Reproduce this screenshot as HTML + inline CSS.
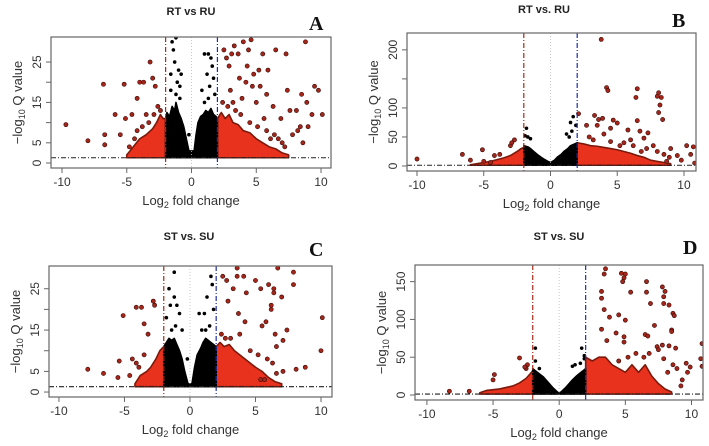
<!DOCTYPE html>
<html><head><meta charset="utf-8">
<style>
body{margin:0;background:#fff;}
svg{display:block;font-family:"Liberation Sans",Arial,sans-serif;}
</style></head>
<body>
<svg id="fig" width="709" height="446" viewBox="0 0 709 446"></svg>
<script>
// ---------- data ----------
const xTicks=[-10,-5,0,5,10];
const aYTicks=[0,5,10,15,20,25]; const aYLabels=["0","5","","15","","25"];
const bYTicks=[0,50,100,150,200]; const bYLabels=["0","50","100","","200"];
const cYTicks=[0,5,10,15,20,25]; const cYLabels=["0","5","","15","","25"];
const dYTicks=[0,50,100,150]; const dYLabels=["0","50","100","150"];
const qThreshold=1.3; const fcThreshold=2;

const aBlackEnv=[[-2,11],[-1.9,12.5],[-1.7,11.5],[-1.5,14],[-1.3,13],[-1.2,15],[-1,12.5],[-0.8,11],[-0.6,9],[-0.4,6],[-0.2,3],[0.2,3],[0.35,7],[0.5,10],[0.7,11.5],[0.9,12],[1.1,13],[1.3,12.5],[1.5,13.5],[1.7,12],[1.9,11.5],[2,11]];
const aRedEnvL=[[-5,2],[-4.5,4],[-4,6],[-3.5,7],[-3,8.5],[-2.7,10],[-2.4,12],[-2.2,11],[-2,11]];
const aRedEnvR=[[2,11],[2.3,12.5],[2.6,11],[2.9,12],[3.2,10],[3.6,9.5],[4,8],[4.5,7.5],[5,6],[5.5,5],[6,4],[6.5,3.5],[7,2.5],[7.5,2]];
const aBlackPts=[[-1.5,30],[-1.2,31],[-1.4,28],[-1.0,23],[-0.8,22],[-1.1,20],[-1.3,25],[1.0,27],[1.3,27],[1.5,26],[1.6,24],[1.2,22],[1.7,21],[0.8,18],[1.4,19],[-0.9,19],[-1.6,22],[-0.2,7],[-1.2,17],[-0.9,16],[1.3,16],[1.0,15],[-1.6,18],[1.8,17]];
const aRedPts=[[-9.7,9.5],[-8,5.5],[-6.8,19.5],[-6.7,7],[-6.7,4.5],[-5.9,12],[-5.2,19.5],[-5.1,11],[-4.6,12],[-4.2,16],[-4,20],[-3.7,20],[-3.5,12],[-3.2,25],[-3,21],[-2.8,19],[-2.6,14],[-2.4,13],[-5.5,7],[-4.4,6],[-3.8,9],[2.5,28],[2.7,26],[2.9,24],[3.3,29],[3.6,27],[4.0,30],[4.4,28],[4.6,30.5],[4.8,22],[5.3,19],[5.5,27],[5.9,23],[6.5,28],[7.3,27],[7.4,18],[8.5,17],[8.8,30],[9.5,19],[9.8,18],[10.1,12],[9.3,12],[8.9,15],[8.4,9],[8.2,8],[7.8,7],[7.0,5],[6.3,14],[6.1,6],[5.6,11],[5.0,15],[4.2,20],[3.9,16],[3.1,27],[3.4,13],[4.3,24],[5.8,17],[6.9,11],[7.6,13],[8.1,13],[9.0,9],[3.0,18],[3.7,21],[4.7,19],[5.2,23],[6.7,6],[2.4,15],[2.8,14],[3.2,15],[3.8,12],[4.5,10],[5.1,9],[5.8,8],[6.4,7],[7.2,4],[8.6,5],[-4.8,4],[-4.2,8],[-3.3,10],[-2.9,12]];

const bBlackEnv=[[-2,35],[-1.7,33],[-1.5,30],[-1.2,24],[-1,20],[-0.7,15],[-0.5,12],[-0.2,8],[0,6],[0.3,10],[0.5,15],[0.8,20],[1,25],[1.3,30],[1.5,35],[1.8,38],[2,40]];
const bRedEnvL=[[-6,2],[-5,6],[-4.5,8],[-4,11],[-3.5,14],[-3,18],[-2.5,25],[-2.2,30],[-2,32]];
const bRedEnvR=[[2,40],[2.5,38],[3,35],[3.5,34],[4,32],[4.5,30],[5,28],[5.5,25],[6,22],[6.5,18],[7,15],[7.5,10],[8,8],[9,4]];
const bBlackPts=[[-1.8,65],[-1.7,50],[-1.5,47],[1.5,75],[1.7,85],[1.6,60],[1.2,55],[1.4,50],[1.9,70],[-1.9,52]];
const bRedPts=[[3.8,218],[4.2,135],[4.3,130],[6.5,133],[6.4,118],[8,120],[8.1,126],[8.3,118],[8.1,92],[8.4,80],[8.2,105],[2.1,90],[3.3,87],[3.6,80],[3.9,82],[4.7,79],[5.0,74],[6.5,78],[6.7,60],[7.3,57],[5.8,62],[4.5,65],[2.7,70],[3.5,70],[6.0,45],[7.0,48],[7.7,35],[9.0,30],[10.2,35],[10.7,33],[10.5,20],[9.5,18],[8.5,20],[9.8,10],[10.8,5],[8.7,8],[-10,12],[-6.6,20],[-5.1,28],[-4.2,18],[-3.8,20],[-3.0,35],[-2.7,45],[-2.9,40],[-6,10],[-5,8],[-4.5,6],[2.9,50],[4,55],[5.5,40],[6.2,35],[7.2,30],[8.0,25],[8.9,15],[6.8,25],[5.2,35],[4.5,42],[3.2,45]];

const cBlackEnv=[[-2,11],[-1.8,12],[-1.6,13],[-1.4,12.5],[-1.2,13],[-1,11.5],[-0.8,10],[-0.6,8],[-0.4,5],[-0.15,2],[0.15,2],[0.35,6],[0.55,9],[0.8,10.5],[1,12],[1.2,13],[1.4,12.5],[1.6,12],[1.8,11.5],[2,11]];
const cRedEnvL=[[-4.2,2],[-3.8,4],[-3.3,5],[-3,6],[-2.6,8],[-2.3,10],[-2,11]];
const cRedEnvR=[[2,11],[2.3,12],[2.6,11],[3,11.5],[3.4,10],[3.8,9],[4.2,8],[4.6,7],[5,6],[5.5,5],[6,3.5],[6.5,2.5],[7,2]];
const cBlackPts=[[-1.6,31],[-1.2,29],[-1.6,25],[-1.2,23],[-1.0,21],[-1.5,21],[-0.8,19],[-1.8,18],[-1.4,15],[1.4,31],[1.6,28],[1.7,26],[1.3,23],[1.8,20],[1.1,19],[0.7,19],[1.5,16],[0.9,15],[-0.2,8],[-1.1,16],[1.2,15],[-0.6,15]];
const cRedPts=[[-7.8,5.5],[-6.6,4.5],[-5.5,3.5],[-5.1,18.5],[-4.1,20.5],[-3.7,20.5],[-3.5,16.5],[-3.2,14],[-2.8,22],[-2.7,21],[-4.4,8],[-4.1,7],[-5.4,7.5],[-3.5,9],[2.5,28],[2.8,27],[3.3,31],[3.6,30],[3.6,28],[4.1,28],[4.6,31],[5.0,27],[5.4,25],[6.0,26],[6.4,25],[6.7,30],[7.9,29],[7.9,26],[7.0,23],[6.4,24],[6.2,21],[6.2,20],[5.8,17],[5.5,16],[6.5,14],[7.4,15],[7.1,12.5],[6.6,11],[10.1,18],[10,10],[8.8,6],[8.1,5.5],[7.1,5],[6.6,4.5],[5.4,3],[5.7,3],[4.2,17],[3.7,19],[2.9,22],[3.3,25],[4.3,24],[3.8,14],[2.4,14],[2.7,13],[3.1,13],[4.6,10],[5.2,9],[5.9,8],[6.3,7],[-4.6,4],[-3.9,6]];

const dBlackEnv=[[-2,35],[-1.8,32],[-1.5,28],[-1.2,24],[-1,20],[-0.7,14],[-0.5,10],[-0.2,5],[0,2],[0.2,5],[0.5,10],[0.8,16],[1,20],[1.3,25],[1.5,28],[1.8,32],[2,35]];
const dRedEnvL=[[-6,3],[-5.5,6],[-5,7],[-4.5,8],[-4,10],[-3.5,12],[-3,16],[-2.5,22],[-2.2,28],[-2,32]];
const dRedEnvR=[[2,50],[2.5,45],[3,50],[3.5,50],[4,40],[4.5,35],[5,30],[5.5,40],[6,30],[6.5,40],[7,25],[7.5,15],[8,8],[8.5,4]];
const dBlackPts=[[-1.8,62],[-1.8,45],[-1.5,35],[1.7,62],[1.9,48],[1.2,40],[1.0,38],[1.6,42],[1.9,52]];
const dRedPts=[[-8.3,5],[-6.8,5],[-4.9,27],[-5.0,20],[-3.0,49],[-2.4,40],[-2.5,35],[-2.6,37],[3.5,167],[3.4,160],[3.2,137],[3.2,128],[4.7,161],[5.0,160],[4.9,155],[4.8,150],[5.4,136],[6.6,150],[6.6,136],[6.9,121],[7.8,143],[8.0,137],[7.9,130],[7.9,121],[8.3,119],[8.6,108],[8.7,105],[8.5,86],[8.5,84],[3.4,113],[3.8,103],[4.5,106],[5.0,99],[7.2,92],[3.2,87],[3.6,72],[4.3,82],[4.9,77],[4.9,70],[6.5,80],[6.7,78],[7.4,64],[7.8,66],[8.3,65],[8.8,62],[10.8,68],[10.7,48],[10.8,38],[9.6,42],[9.9,37],[9.3,20],[9.2,12],[8.9,35],[8.6,40],[8.2,30],[7.9,48],[7.5,60],[6.8,55],[6.4,50],[5.8,55],[5.2,50],[4.5,45],[9.7,30]];

// ---------- drawing ----------
const NS="http://www.w3.org/2000/svg";
const svg=document.getElementById('fig');
function el(tag,attrs,parent){const e=document.createElementNS(NS,tag);for(const k in attrs)e.setAttribute(k,attrs[k]);(parent||svg).appendChild(e);return e;}

function panel(cfg){
  const g=el('g',{});
  
  
  const {bx,by,bw,bh,xmin,xmax,ymin,ymax}=cfg;
  const X=v=>bx+(v-xmin)/(xmax-xmin)*bw;
  const Y=v=>by+bh-(v-ymin)/(ymax-ymin)*bh;
  const cp=el('clipPath',{id:'clip'+cfg.id},g);
  el('rect',{x:bx,y:by,width:bw,height:bh},cp);
  const plot=el('g',{'clip-path':'url(#clip'+cfg.id+')'},g);
  function env(arr,fill,name){
    let pts=arr.map(p=>X(p[0])+','+Y(p[1]));
    pts.push(X(arr[arr.length-1][0])+','+Y(qThreshold));
    pts.push(X(arr[0][0])+','+Y(qThreshold));
    const p=el('polygon',{points:pts.join(' '),fill:fill,stroke:fill==='#000'?'#000':'#7a1a0c','stroke-width':1.6,'stroke-linejoin':'round'},plot);
    
    
  }
  env(cfg.redL,'#e8321e','dense-down-region');
  env(cfg.redR,'#e8321e','dense-up-region');
  env(cfg.black,'#000','dense-nonsig-region');
  cfg.redPts.forEach(p=>{
    const c=el('circle',{cx:X(p[0]),cy:Y(p[1]),r:2.1,fill:'#a3261a',stroke:'#3a0805','stroke-width':0.6},plot);
    
    
  });
  cfg.blackPts.forEach(p=>{
    const c=el('circle',{cx:X(p[0]),cy:Y(p[1]),r:1.8,fill:'#000'},plot);
    
    
  });
  const l1=el('line',{x1:X(-fcThreshold),x2:X(-fcThreshold),y1:by,y2:by+bh,stroke:'#a52a1a','stroke-width':1.2,'stroke-dasharray':'5,2,1,2'},plot);
   
  const l2=el('line',{x1:X(fcThreshold),x2:X(fcThreshold),y1:by,y2:by+bh,stroke:'#1f2fa0','stroke-width':1.2,'stroke-dasharray':'5,2,1,2'},plot);
   
  const l0=el('line',{x1:X(0),x2:X(0),y1:by,y2:by+bh,stroke:'#bbb','stroke-width':0.8,'stroke-dasharray':'1,2'},plot);
   
  const lh=el('line',{x1:bx,x2:bx+bw,y1:Y(qThreshold),y2:Y(qThreshold),stroke:'#222','stroke-width':1.1,'stroke-dasharray':'5,2,1,2'},plot);
   
  const box=el('rect',{x:bx,y:by,width:bw,height:bh,fill:'none',stroke:'#666','stroke-width':1.2},g);
   
  xTicks.forEach(t=>{
    el('line',{x1:X(t),x2:X(t),y1:by+bh,y2:by+bh+5,stroke:'#666','stroke-width':1},g);
    const tx=el('text',{x:X(t),y:by+bh+18,'text-anchor':'middle','font-size':12,fill:'#333'},g);
    tx.textContent=String(t);
     
  });
  cfg.yTicks.forEach((t,i)=>{
    el('line',{x1:bx-5,x2:bx,y1:Y(t),y2:Y(t),stroke:'#666','stroke-width':1},g);
    if(cfg.yLabels[i]){
      const tx=el('text',{x:0,y:0,'text-anchor':'middle','font-size':12,fill:'#333',transform:`translate(${bx-10},${Y(t)}) rotate(-90)`},g);
      tx.textContent=cfg.yLabels[i];
       
    }
  });
  const xt=el('text',{x:bx+bw/2,y:by+bh+37,'text-anchor':'middle','font-size':13,fill:'#333'},g);
  xt.innerHTML='Log<tspan font-size="9" dy="3">2</tspan><tspan dy="-3"> fold change</tspan>';
   
  const yt=el('text',{x:0,y:0,'text-anchor':'middle','font-size':13,fill:'#333',transform:`translate(${bx-29},${by+bh/2}) rotate(-90)`},g);
  yt.innerHTML='\u2212log<tspan font-size="9" dy="3">10</tspan><tspan dy="-3"> Q value</tspan>';
   
  const ti=el('text',{x:cfg.tx,y:cfg.ty,'text-anchor':'middle','font-size':11,'font-weight':'bold',fill:'#222'},g);
  ti.textContent=cfg.title;
   
  const lt=el('text',{x:cfg.lx,y:cfg.ly,'font-size':20,'font-weight':'bold','font-family':'"Liberation Serif",serif',fill:'#111'},g);
  lt.textContent=cfg.letter;
   
}

panel({id:'a',bx:51,by:37,bw:280,bh:131,xmin:-10.85,xmax:10.77,ymin:-1.24,ymax:31.2,yTicks:aYTicks,yLabels:aYLabels,black:aBlackEnv,redL:aRedEnvL,redR:aRedEnvR,blackPts:aBlackPts,redPts:aRedPts,title:'RT vs RU',tx:191,ty:15,letter:'A',lx:309,ly:30});
panel({id:'b',bx:407,by:33,bw:289,bh:138,xmin:-10.75,xmax:10.9,ymin:-8.6,ymax:229,yTicks:bYTicks,yLabels:bYLabels,black:bBlackEnv,redL:bRedEnvL,redR:bRedEnvR,blackPts:bBlackPts,redPts:bRedPts,title:'RT vs. RU',tx:544,ty:13,letter:'B',lx:672,ly:27});
panel({id:'c',bx:49,by:266,bw:283,bh:131,xmin:-10.76,xmax:10.84,ymin:-1.2,ymax:30.5,yTicks:cYTicks,yLabels:cYLabels,black:cBlackEnv,redL:cRedEnvL,redR:cRedEnvR,blackPts:cBlackPts,redPts:cRedPts,title:'ST vs. SU',tx:189,ty:240,letter:'C',lx:309,ly:256});
panel({id:'d',bx:415,by:265,bw:288,bh:135,xmin:-10.9,xmax:10.87,ymin:-6.6,ymax:172,yTicks:dYTicks,yLabels:dYLabels,black:dBlackEnv,redL:dRedEnvL,redR:dRedEnvR,blackPts:dBlackPts,redPts:dRedPts,title:'ST vs. SU',tx:559,ty:240,letter:'D',lx:683,ly:254});
</script>
</body></html>
